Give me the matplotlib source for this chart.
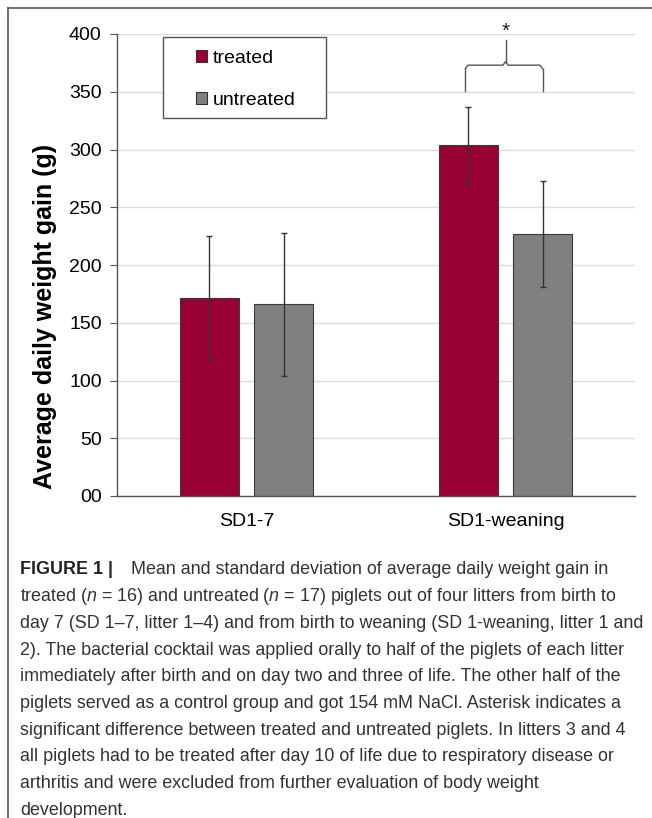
import matplotlib.pyplot as plt
import numpy as np
from matplotlib.lines import Line2D
from matplotlib.patches import Rectangle

plt.rcParams['font.family'] = ['Liberation Sans', 'DejaVu Sans']
plt.rcParams['mathtext.fontset'] = 'custom'
plt.rcParams['mathtext.it'] = 'Liberation Sans:italic'
plt.rcParams['mathtext.rm'] = 'Liberation Sans'

# Tageszunahme (g) je Gruppe
grupos = ['SD1-7', 'SD1-weaning']
tratados = [171, 304]
tratados_sd = [54, 33]
no_tratados = [166, 227]
no_tratados_sd = [62, 46]
ticks_y = [0, 50, 100, 150, 200, 250, 300, 350, 400]
etiquetas_y = ['00', '50', '100', '150', '200', '250', '300', '350', '400']

pie = [
    ('Mean and standard deviation of average daily weight gain in', 131),
    ('treated ($n$ = 16) and untreated ($n$ = 17) piglets out of four litters from birth to', 20),
    ('day 7 (SD 1–7, litter 1–4) and from birth to weaning (SD 1-weaning, litter 1 and', 20),
    ('2). The bacterial cocktail was applied orally to half of the piglets of each litter', 20),
    ('immediately after birth and on day two and three of life. The other half of the', 20),
    ('piglets served as a control group and got 154 mM NaCl. Asterisk indicates a', 20),
    ('significant difference between treated and untreated piglets. In litters 3 and 4', 20),
    ('all piglets had to be treated after day 10 of life due to respiratory disease or', 20),
    ('arthritis and were excluded from further evaluation of body weight', 20),
    ('development.', 20),
]

W, H = 652, 818
fig = plt.figure(figsize=(W / 100, H / 100), dpi=100)
ax = fig.add_axes([117 / W, 1 - 496 / H, (635 - 117) / W, (496 - 34) / H])

x = np.arange(len(grupos))
ancho = 0.225
desp = 0.143
err_kw = dict(ecolor='#333333', elinewidth=1.0, capsize=2.5, capthick=1.0)
ax.bar(x - desp, tratados, ancho, yerr=tratados_sd, color='#990033',
       edgecolor='#3a3a3a', linewidth=0.8, error_kw=err_kw, label='treated', zorder=2)
ax.bar(x + desp, no_tratados, ancho, yerr=no_tratados_sd, color='#808080',
       edgecolor='#3a3a3a', linewidth=0.8, error_kw=err_kw, label='untreated', zorder=2)

ax.set_xlim(-0.5, 1.5)
ax.set_ylim(0, 400)
ax.set_yticks(ticks_y)
ax.set_yticklabels(etiquetas_y, fontsize=14)
ax.set_xticks(x)
ax.set_xticklabels(grupos, fontsize=14)
ax.tick_params(axis='x', length=0, pad=12)
ax.tick_params(axis='y', length=5, color='#555555', pad=6)
ax.yaxis.grid(True, color='#dcdcdc', linewidth=1.0, zorder=0)
ax.set_axisbelow(True)
for lado in ['top', 'right']:
    ax.spines[lado].set_visible(False)
for lado in ['left', 'bottom']:
    ax.spines[lado].set_color('#555555')
    ax.spines[lado].set_linewidth(1.0)
ax.set_ylabel('Average daily weight gain (g)', fontsize=18, fontweight='bold', va='center')
ax.yaxis.set_label_coords((45 - 117) / 518, (496 - 316) / 462)

# Llave de significancia sobre SD1-weaning
xb0, xb1, xm = 1 - 0.155, 1 + 0.143, 1.0
yb, yh, yt = 351, 373, 395
c = '#555555'
ax.plot([xb0, xb0], [yb, yh - 3], color=c, lw=1.0, clip_on=False)
ax.plot([xb1, xb1], [yb, yh - 3], color=c, lw=1.0, clip_on=False)
ax.plot([xb0, xb0 + 0.01, xm - 0.01, xm, xm + 0.01, xb1 - 0.01, xb1],
        [yh - 3, yh, yh, yh + 3, yh, yh, yh - 3], color=c, lw=1.0, clip_on=False)
ax.plot([xm, xm], [yh + 3, yt], color=c, lw=1.0, clip_on=False)
ax.text(xm, 397.5, '*', ha='center', va='baseline', fontsize=15, color='#222222')

# Leyenda con marco propio
ax.add_patch(Rectangle(((163 - 117) / 518, (496 - 118) / 462), (326 - 163) / 518, 81 / 462,
                       transform=ax.transAxes, facecolor='white', edgecolor='#555555',
                       lw=1.0, zorder=3, clip_on=False))
leg = ax.legend(loc='upper left', bbox_to_anchor=((196 - 117) / 518, (496 - 50) / 462),
                fontsize=14, frameon=False, handlelength=0.55, handleheight=0.55,
                handletextpad=0.3, labelspacing=1.27, borderpad=0, borderaxespad=0)
leg.set_zorder(4)
for h in leg.legend_handles:
    h.set_edgecolor('#333333')

# Marco de la figura
fig.add_artist(Line2D([7.5 / W, 7.5 / W], [0, 1 - 8 / H], color='#555555', lw=1.2))
fig.add_artist(Line2D([7.5 / W, 1], [1 - 8 / H, 1 - 8 / H], color='#555555', lw=1.2))

# Texto del pie de figura
fig.text(20 / W, 1 - 570 / H, 'FIGURE 1 |', fontsize=12.9, fontweight='bold',
         va='center', color='#222222')
for i, (linea, x0) in enumerate(pie):
    fig.text(x0 / W, 1 - (570 + 26.7 * i) / H, linea, fontsize=12.9,
             va='center', color='#333333')

fig.savefig('out.png', dpi=100)
